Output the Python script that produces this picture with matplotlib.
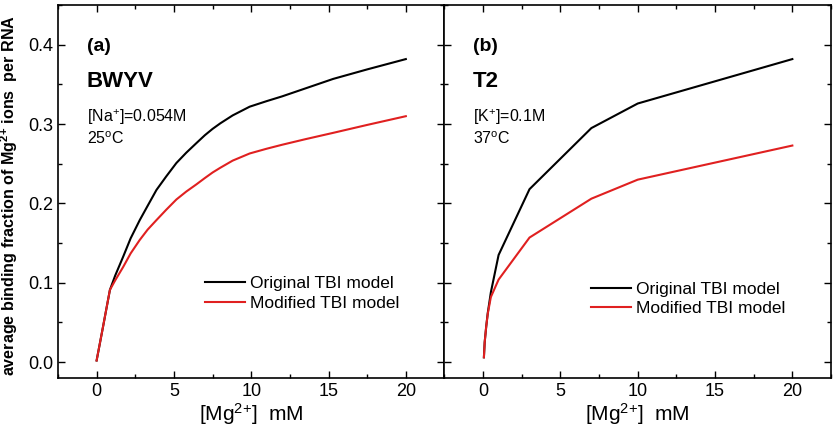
import numpy as np
import matplotlib
matplotlib.use('Agg')
import matplotlib.pyplot as plt
from matplotlib.ticker import MultipleLocator

plt.rcParams['font.family'] = 'Liberation Sans'
plt.rcParams['mathtext.fontset'] = 'custom'
plt.rcParams['mathtext.rm'] = 'Liberation Sans'
plt.rcParams['mathtext.it'] = 'Liberation Sans'
plt.rcParams['mathtext.bf'] = 'Liberation Sans:bold'

# panel (a) BWYV
mg_a = [0, 0.4, 0.86, 1.2, 1.72, 2.2, 2.79, 3.3, 3.87, 4.5, 5.16, 5.8, 6.45, 7.0,
        7.5, 8.0, 8.8, 9.9, 11, 12, 13.5, 15.3, 17.5, 20]
orig_a = [0.002, 0.043, 0.091, 0.109, 0.133, 0.156, 0.179, 0.197, 0.217, 0.234, 0.251,
          0.264, 0.276, 0.286, 0.294, 0.301, 0.311, 0.322, 0.329, 0.335, 0.345, 0.357,
          0.369, 0.382]
mod_a = [0.002, 0.043, 0.091, 0.103, 0.120, 0.137, 0.154, 0.167, 0.179, 0.192, 0.205,
         0.215, 0.224, 0.232, 0.239, 0.245, 0.254, 0.263, 0.269, 0.274, 0.281, 0.289,
         0.299, 0.310]

# panel (b) T2
mg_b = [0.05, 0.1, 0.2, 0.3, 0.5, 1, 3, 7, 10, 20]
orig_b = [0.006, 0.025, 0.045, 0.062, 0.088, 0.135, 0.218, 0.295, 0.326, 0.382]
mod_b = [0.006, 0.025, 0.045, 0.061, 0.082, 0.104, 0.157, 0.206, 0.230, 0.273]

fig, axes = plt.subplots(1, 2, figsize=(8.34, 4.29), dpi=100, sharey=True)
fig.subplots_adjust(left=0.0695, right=0.9964, top=0.988, bottom=0.119, wspace=0)

panels = [
    (axes[0], mg_a, orig_a, mod_a, '(a)', 'BWYV', '[Na$^{+}$]=0.054M', '25$^{o}$C', (0.38, 0.18)),
    (axes[1], mg_b, orig_b, mod_b, '(b)', 'T2', '[K$^{+}$]=0.1M', '37$^{o}$C', (0.38, 0.165)),
]

for ax, x, y1, y2, tag, name, salt, temp, legpos in panels:
    ax.plot(x, y1, color='black', lw=1.5, label='Original TBI model')
    ax.plot(x, y2, color='#e02020', lw=1.5, label='Modified TBI model')
    ax.set_xlim(-2.5, 22.5)
    ax.set_ylim(-0.02, 0.45)
    ax.xaxis.set_major_locator(MultipleLocator(5))
    ax.xaxis.set_minor_locator(MultipleLocator(2.5))
    ax.yaxis.set_major_locator(MultipleLocator(0.1))
    ax.yaxis.set_minor_locator(MultipleLocator(0.05))
    ax.tick_params(which='both', direction='in', top=True, right=True, labelsize=13, width=1)
    ax.tick_params(which='major', length=5)
    ax.tick_params(which='minor', length=3)
    for s in ax.spines.values():
        s.set_linewidth(1.2)
    ax.set_xlabel('[Mg$^{2{+}}$]  mM', fontsize=15, labelpad=1)
    ax.text(-0.65, 0.398, tag, fontsize=14, fontweight='bold', va='center')
    ax.text(-0.65, 0.354, name, fontsize=16, fontweight='bold', va='center')
    ax.text(-0.65, 0.309, salt, fontsize=11.5, va='center')
    ax.text(-0.65, 0.281, temp, fontsize=11.5, va='center')
    ax.legend(loc='lower left', bbox_to_anchor=legpos, frameon=False, fontsize=12.5,
              handlelength=2.3, handletextpad=0.3, labelspacing=0.25, borderpad=0, borderaxespad=0)

axes[0].set_ylabel('average binding fraction of Mg$^{\\mathbf{2{+}}}$ ions  per RNA',
                   fontsize=11.6, fontweight='bold')
axes[0].yaxis.set_label_coords(-0.098, 0.49)
axes[1].tick_params(labelleft=False)

fig.savefig('out.png', dpi=100)
